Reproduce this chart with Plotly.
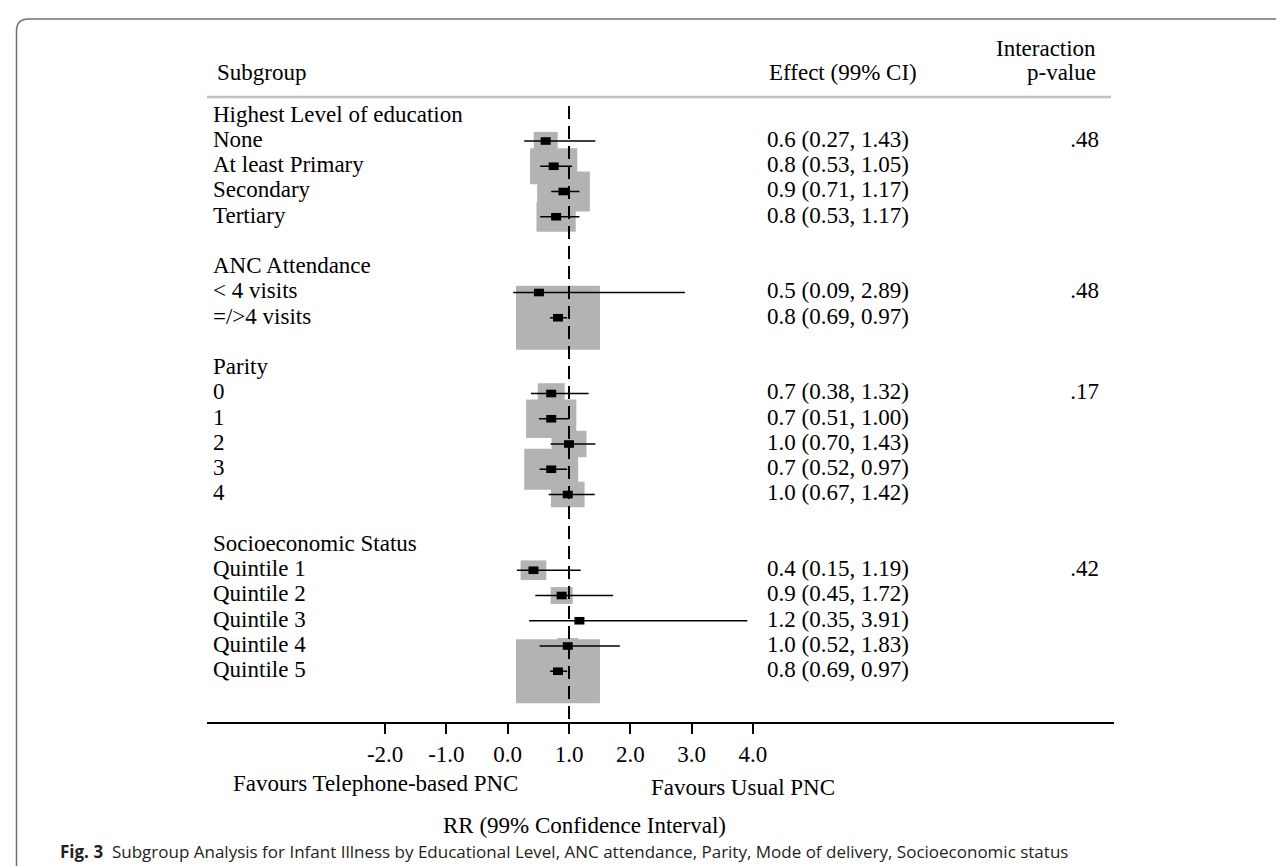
import plotly.graph_objects as go

# ---------------- data ----------------
group_names = ["Highest Level of education", "ANC Attendance", "Parity", "Socioeconomic Status"]
subgroups = [
    ["None", "At least Primary", "Secondary", "Tertiary"],
    ["< 4 visits", "=/>4 visits"],
    ["0", "1", "2", "3", "4"],
    ["Quintile 1", "Quintile 2", "Quintile 3", "Quintile 4", "Quintile 5"],
]
estimates = [
    [0.62, 0.75, 0.91, 0.79],
    [0.51, 0.82],
    [0.71, 0.71, 1.00, 0.71, 0.98],
    [0.42, 0.88, 1.17, 0.98, 0.82],
]
lower = [
    [0.27, 0.53, 0.71, 0.53],
    [0.09, 0.69],
    [0.38, 0.51, 0.70, 0.52, 0.67],
    [0.15, 0.45, 0.35, 0.52, 0.69],
]
upper = [
    [1.43, 1.05, 1.17, 1.17],
    [2.89, 0.97],
    [1.32, 1.00, 1.43, 0.97, 1.42],
    [1.19, 1.72, 3.91, 1.83, 0.97],
]
effect_labels = [
    ["0.6 (0.27, 1.43)", "0.8 (0.53, 1.05)", "0.9 (0.71, 1.17)", "0.8 (0.53, 1.17)"],
    ["0.5 (0.09, 2.89)", "0.8 (0.69, 0.97)"],
    ["0.7 (0.38, 1.32)", "0.7 (0.51, 1.00)", "1.0 (0.70, 1.43)", "0.7 (0.52, 0.97)", "1.0 (0.67, 1.42)"],
    ["0.4 (0.15, 1.19)", "0.9 (0.45, 1.72)", "1.2 (0.35, 3.91)", "1.0 (0.52, 1.83)", "0.8 (0.69, 0.97)"],
]
# weight box widths (RR units)
weights = [
    [0.39, 0.77, 0.86, 0.64],
    [0.10, 1.37],
    [0.44, 0.82, 0.57, 0.88, 0.55],
    [0.42, 0.36, 0.10, 0.34, 1.37],
]
p_values = [".48", ".48", ".17", ".42"]
tick_vals = [-2, -1, 0, 1, 2, 3, 4]
tick_text = ["-2.0", "-1.0", "0.0", "1.0", "2.0", "3.0", "4.0"]

# ---------------- layout helpers ----------------
W, H = 1284, 866
PX_PER_X = 61.3
X1_PX = 561.0
ROW0_PX = 107.75
ROW_H = 25.25
AXIS_PX = 714.0
BOX_ASPECT = 1.31
SERIF = "Liberation Serif, Times New Roman, serif"
FS = 23


def px_to_x(px):
    return (px - X1_PX) / PX_PER_X + 1


def px_to_row(py):
    return (py - ROW0_PX) / ROW_H


# build rows
row_labels, row_y = [], []
pt_x, pt_y, ci_x, ci_y, eff_txt, eff_y = [], [], [], [], [], []
box_specs = []
pv_txt, pv_y = [], []
k = 0
for g, name in enumerate(group_names):
    row_labels.append(name)
    row_y.append(k)
    k += 1
    for i, s in enumerate(subgroups[g]):
        row_labels.append(s)
        row_y.append(k)
        e, lo, hi, w = estimates[g][i], lower[g][i], upper[g][i], weights[g][i]
        pt_x.append(e)
        pt_y.append(k)
        ci_x += [lo, hi, None]
        ci_y += [k, k, None]
        eff_txt.append(effect_labels[g][i])
        eff_y.append(k)
        box_specs.append((e, k, w))
        if i == 0:
            pv_txt.append(p_values[g])
            pv_y.append(k)
        k += 1
    k += 1  # blank row between groups

fig = go.Figure()

shapes = []
# weight boxes
for e, r, w in box_specs:
    half_h = w * PX_PER_X / BOX_ASPECT / ROW_H / 2
    shapes.append(dict(type="rect", xref="x", yref="y", x0=e - w / 2, x1=e + w / 2,
                       y0=r - half_h, y1=r + half_h, fillcolor="#b3b3b3",
                       line=dict(width=0), layer="below"))
# point squares
for e, r in zip(pt_x, pt_y):
    shapes.append(dict(type="rect", xref="x", yref="y", xsizemode="pixel", ysizemode="pixel",
                       xanchor=e, yanchor=r, x0=-5, x1=5, y0=-3.8, y1=3.8,
                       fillcolor="black", line=dict(width=0), layer="above"))
# header separator
shapes.append(dict(type="line", xref="x", yref="y", x0=px_to_x(199), x1=px_to_x(1103),
                   y0=px_to_row(89), y1=px_to_row(89), line=dict(color="#c0c0c0", width=2.5)))
# rounded frame
r = 12
xl, yt = 8.5 / W, 1 - 11 / H
rx, ry = r / W, r / H
shapes.append(dict(type="path", xref="paper", yref="paper",
                   path=f"M {xl},-0.05 L {xl},{yt - ry} Q {xl},{yt} {xl + rx},{yt} L 1.05,{yt}",
                   line=dict(color="#707070", width=1.5)))

# dashed null line
fig.add_trace(go.Scatter(x=[1, 1], y=[px_to_row(98), px_to_row(AXIS_PX)], mode="lines",
                         line=dict(color="black", width=2, dash="13px,7px"),
                         hoverinfo="skip", showlegend=False))
# CI lines
fig.add_trace(go.Scatter(x=ci_x, y=ci_y, mode="lines", line=dict(color="black", width=1.5),
                         hoverinfo="skip", showlegend=False))
# subgroup labels
fig.add_trace(go.Scatter(x=[px_to_x(205)] * len(row_labels), y=row_y, text=row_labels,
                         mode="text", textposition="middle right", cliponaxis=False,
                         textfont=dict(family=SERIF, size=FS, color="black"),
                         hoverinfo="skip", showlegend=False))
# effect labels
fig.add_trace(go.Scatter(x=[px_to_x(759)] * len(eff_txt), y=eff_y, text=eff_txt,
                         mode="text", textposition="middle right", cliponaxis=False,
                         textfont=dict(family=SERIF, size=FS, color="black"),
                         hoverinfo="skip", showlegend=False))
# p-values
fig.add_trace(go.Scatter(x=[px_to_x(1091)] * len(pv_txt), y=pv_y, text=pv_txt,
                         mode="text", textposition="middle left", cliponaxis=False,
                         textfont=dict(family=SERIF, size=FS, color="black"),
                         hoverinfo="skip", showlegend=False))

ann_font = dict(family=SERIF, size=FS, color="black")
annotations = [
    dict(text="Subgroup", xref="x", yref="y", x=px_to_x(207), y=px_to_row(64),
         xanchor="left", yanchor="middle", showarrow=False, font=ann_font),
    dict(text="Effect (99% CI)", xref="x", yref="y", x=px_to_x(759), y=px_to_row(64),
         xanchor="left", yanchor="middle", showarrow=False, font=ann_font),
    dict(text="Interaction", xref="x", yref="y", x=px_to_x(1090), y=px_to_row(40),
         xanchor="right", yanchor="middle", showarrow=False, font=ann_font),
    dict(text="p-value", xref="x", yref="y", x=px_to_x(1090), y=px_to_row(64),
         xanchor="right", yanchor="middle", showarrow=False, font=ann_font),
    dict(text="Favours Telephone-based PNC", xref="paper", yref="paper", x=223 / W, y=1 - 775 / H,
         xanchor="left", yanchor="middle", showarrow=False, font=ann_font),
    dict(text="Favours Usual PNC", xref="paper", yref="paper", x=641 / W, y=1 - 779 / H,
         xanchor="left", yanchor="middle", showarrow=False, font=ann_font),
    dict(text="RR (99% Confidence Interval)", xref="paper", yref="paper", x=576 / W, y=1 - 817 / H,
         xanchor="center", yanchor="middle", showarrow=False, font=ann_font),
    dict(text="<b>Fig. 3</b>&nbsp;&nbsp;Subgroup Analysis for Infant Illness by Educational Level, "
              "ANC attendance, Parity, Mode of delivery, Socioeconomic status",
         xref="paper", yref="paper", x=50 / W, y=1 - 843 / H, xanchor="left", yanchor="middle",
         showarrow=False, font=dict(family="Open Sans, Noto Sans, sans-serif", size=17, color="#231f20")),
]

fig.update_layout(
    width=W, height=H, margin=dict(l=0, r=0, t=0, b=0),
    paper_bgcolor="white", plot_bgcolor="white",
    shapes=shapes, annotations=annotations, showlegend=False,
    xaxis=dict(domain=[199 / W, 1106 / W], range=[px_to_x(199), px_to_x(1106)],
               showline=True, linecolor="black", linewidth=2, ticks="outside", ticklen=10,
               tickwidth=1.5, tickcolor="black", tickvals=tick_vals, ticktext=tick_text,
               tickfont=dict(family=SERIF, size=FS, color="black"), showgrid=False,
               zeroline=False, fixedrange=True),
    yaxis=dict(domain=[1 - AXIS_PX / H, 1], range=[px_to_row(AXIS_PX), px_to_row(0)],
               visible=False, fixedrange=True),
)

fig.write_html("out.html")
